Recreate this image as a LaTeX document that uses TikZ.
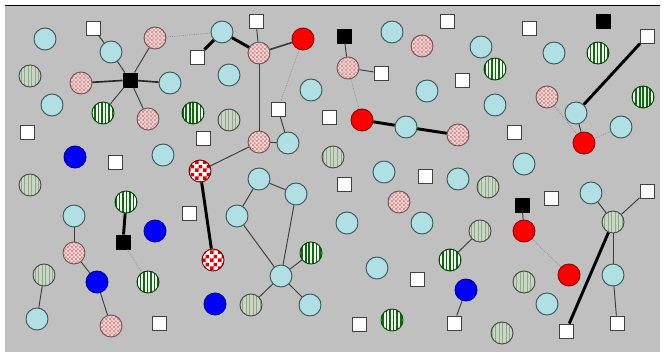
\documentclass[tikz,border=0pt]{standalone}
\usetikzlibrary{patterns, patterns.meta}

\pgfdeclarepatternformonly{bigchecker}{\pgfpointorigin}{\pgfqpoint{6.4pt}{6.4pt}}{\pgfqpoint{6.4pt}{6.4pt}}{%
  \pgfpathrectangle{\pgfpointorigin}{\pgfqpoint{3.3pt}{3.3pt}}%
  \pgfpathrectangle{\pgfqpoint{3.2pt}{3.2pt}}{\pgfqpoint{3.3pt}{3.3pt}}%
  \pgfusepath{fill}}
\pgfdeclarepatternformonly{smallchecker}{\pgfpointorigin}{\pgfqpoint{3.6pt}{3.6pt}}{\pgfqpoint{3.6pt}{3.6pt}}{%
  \pgfpathrectangle{\pgfpointorigin}{\pgfqpoint{1.85pt}{1.85pt}}%
  \pgfpathrectangle{\pgfqpoint{1.8pt}{1.8pt}}{\pgfqpoint{1.85pt}{1.85pt}}%
  \pgfusepath{fill}}

\definecolor{bggray}{RGB}{192,192,192}
\definecolor{lbfill}{RGB}{176,224,228}
\definecolor{lbline}{RGB}{60,85,88}
\definecolor{pkbase}{RGB}{240,212,212}
\definecolor{pkcell}{RGB}{214,150,150}
\definecolor{ggbase}{RGB}{204,212,200}
\definecolor{ggline}{RGB}{140,172,136}
\definecolor{gsline}{RGB}{0,115,0}
\definecolor{edgegray}{RGB}{60,60,60}
\definecolor{faintgray}{RGB}{135,135,135}

\tikzset{%
  bead/.style={circle, draw, line width=0.8pt, minimum size=0.66cm, inner sep=0pt},
  lblue/.style={bead, fill=lbfill, draw=lbline},
  pinkchk/.style={bead, draw=pkcell!55!black, preaction={fill=pkbase}, pattern=smallchecker, pattern color=pkcell},
  redchk/.style={bead, draw=red!45!black, preaction={fill=white}, pattern=bigchecker, pattern color=red!90!black},
  greystr/.style={bead, draw=ggline!45!black, preaction={fill=ggbase}, pattern={Lines[angle=90, distance=3pt, line width=0.7pt]}, pattern color=ggline},
  greenstr/.style={bead, draw=gsline!55!black, preaction={fill=white}, pattern={Lines[angle=90, distance=3pt, line width=1.4pt]}, pattern color=gsline},
  reddot/.style={bead, fill=red, draw=red!55!black},
  bluedot/.style={bead, fill=blue, draw=blue!55!black},
  wsq/.style={rectangle, draw=black!75, fill=white, line width=0.8pt, minimum size=0.42cm, inner sep=0pt},
  bsq/.style={wsq, fill=black, draw=black},
  link/.style={draw=edgegray, line width=0.8pt},
  midlink/.style={draw=black!85, line width=1.4pt},
  faint/.style={draw=faintgray, line width=0.6pt, densely dotted},
  heavy/.style={draw=black, line width=2.5pt},
}

\begin{document}
\begin{tikzpicture}[x=0.03cm, y=-0.03cm]
    \useasboundingbox (0,0) rectangle (665,352);
    \fill[bggray] (5,6) rectangle (660,352);
    \draw[line width=1.2pt] (5,5.5) -- (660,5.5);

    % light blue nodes
    \foreach \n/\x/\y in {lb1/45/39, lb2/111/52, lb3/222/32, lb4/170/83, lb5/52/105,
        lb6/163/155, lb7/229/75, lb8/311/90, lb9/392/32, lb10/288/143, lb11/406/127,
        lb12/427/91, lb13/481/47, lb14/554/53, lb15/495/105, lb16/576/113, lb17/621/127,
        lb18/524/164, lb19/384/172, lb20/458/179, lb21/259/179, lb22/296/194,
        lb23/237/216, lb24/347/223, lb25/422/223, lb26/281/276, lb27/377/268,
        lb28/310/305, lb29/74/216, lb30/37/319, lb31/591/193, lb32/613/275, lb33/547/304}
        \node[lblue] (\n) at (\x,\y) {};

    % checked and striped nodes
    \foreach \n/\x/\y in {pk1/155/38, pk2/81/83, pk3/148/119, pk4/259/53, pk5/259/142,
        pk6/348/68, pk7/422/46, pk8/458/135, pk9/547/97, pk10/399/202, pk11/74/253, pk12/111/326}
        \node[pinkchk] (\n) at (\x,\y) {};
    \foreach \n/\x/\y in {rc1/200/171, rc2/213/260}
        \node[redchk] (\n) at (\x,\y) {};
    \foreach \n/\x/\y in {gg1/30/76, gg2/229/120, gg3/333/157, gg4/488/187, gg5/480/231,
        gg6/30/185, gg7/44/275, gg8/251/305, gg9/524/282, gg10/502/333, gg11/613/222}
        \node[greystr] (\n) at (\x,\y) {};
    \foreach \n/\x/\y in {gs1/103/113, gs2/193/113, gs3/495/69, gs4/598/53, gs5/643/97,
        gs6/126/202, gs7/148/282, gs8/311/253, gs9/450/260, gs10/392/320}
        \node[greenstr] (\n) at (\x,\y) {};

    % solid nodes
    \foreach \n/\x/\y in {rd1/303/39, rd2/362/120, rd3/584/143, rd4/524/231, rd5/569/275}
        \node[reddot] (\n) at (\x,\y) {};
    \foreach \n/\x/\y in {bl1/75/157, bl2/155/231, bl3/97/282, bl4/215/304, bl5/466/290}
        \node[bluedot] (\n) at (\x,\y) {};

    % squares
    \foreach \n/\x/\y in {ws1/93/28, ws2/197/57, ws3/27/132, ws4/203/138, ws5/115/162,
        ws6/256/21, ws7/381/73, ws8/278/109, ws9/329/117, ws10/447/21, ws11/529/28,
        ws12/647/36, ws13/462/80, ws14/514/132, ws15/425/176, ws16/344/184, ws17/551/198,
        ws18/647/191, ws19/189/213, ws20/417/279, ws21/359/324, ws22/159/323,
        ws23/454/323, ws24/566/331, ws25/617/323}
        \node[wsq] (\n) at (\x,\y) {};
    \foreach \n/\x/\y in {bs1/130/80, bs2/344/36, bs3/603/21, bs4/123/242, bs5/522/205}
        \node[bsq] (\n) at (\x,\y) {};

    % thin links
    \foreach \a/\b in {bs1/lb2, bs1/pk1, bs1/gs1, bs1/pk3, ws1/lb2, ws6/pk4, pk4/pk5,
        ws8/lb10, pk5/lb10, pk5/rc1, bs2/pk6, pk6/ws7, lb16/rd3, lb21/lb22, lb21/lb23,
        lb23/lb26, lb22/lb26, lb26/gs8, lb26/gg8, lb26/lb28, lb29/pk11, pk11/bl3,
        bl3/pk12, gg7/lb30, gg5/gs9, bl5/ws23, bs5/rd4, lb31/gg11, gg11/ws18,
        gg11/lb32, lb32/ws25}
        \draw[link] (\a) -- (\b);
    \draw[midlink] (bs1) -- (pk2);
    \draw[midlink] (bs1) -- (lb4);
    \draw[midlink, draw=edgegray] (pk4) -- (rd1);

    % faint links
    \foreach \a/\b in {pk1/lb3, rd1/ws8, pk6/rd2, pk9/rd3, rd3/lb17, bs4/gs7, rd4/rd5}
        \draw[faint] (\a) -- (\b);

    % heavy links
    \foreach \a/\b in {lb3/ws2, lb3/pk4, rd2/lb11, lb11/pk8, lb16/ws12, gs6/bs4,
        rc1/rc2, gg11/ws24}
        \draw[heavy] (\a) -- (\b);
\end{tikzpicture}
\end{document}
